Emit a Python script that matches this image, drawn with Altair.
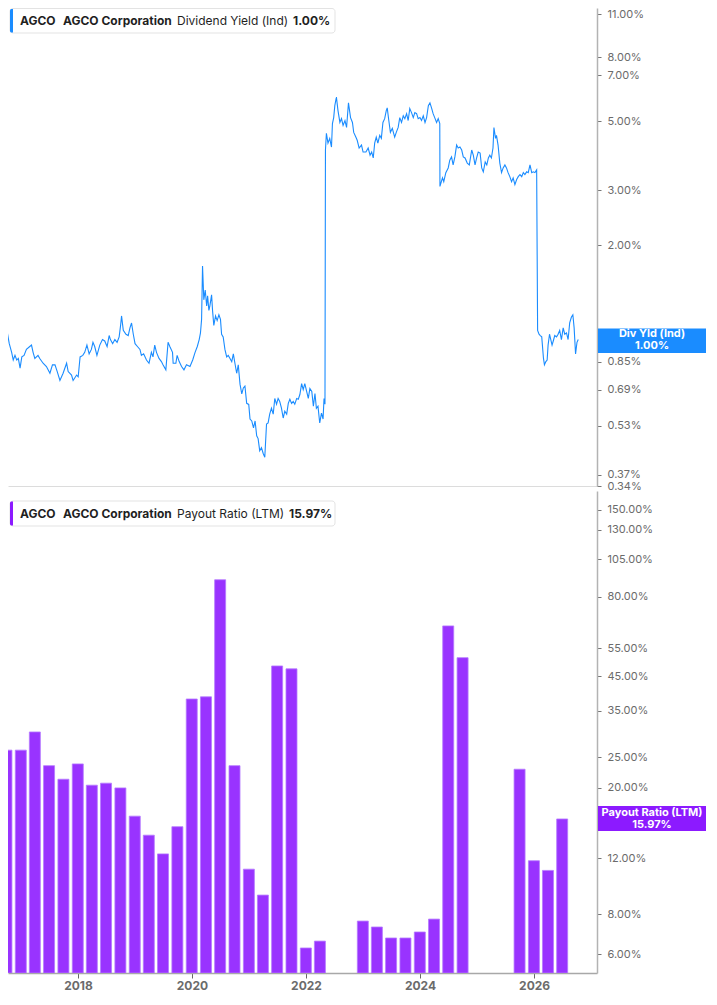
import altair as alt
import pandas as pd

# Dividend Yield (Ind), in % (thinned daily series)
yield_dates = [
    "2016-09-21", "2016-10-02", "2016-10-12", "2016-10-29", "2016-11-07", "2016-11-19", "2016-12-04", "2016-12-14",
    "2016-12-25", "2017-01-05", "2017-01-15", "2017-01-26", "2017-02-06", "2017-02-20", "2017-03-07", "2017-03-28",
    "2017-04-08", "2017-04-18", "2017-04-29", "2017-05-19", "2017-05-30", "2017-06-20", "2017-07-11", "2017-08-02",
    "2017-08-18", "2017-09-03", "2017-09-17", "2017-10-04", "2017-10-24", "2017-11-15", "2017-11-25", "2017-12-16",
    "2017-12-26", "2018-01-17", "2018-01-27", "2018-02-08", "2018-02-25", "2018-03-09", "2018-03-23", "2018-04-06",
    "2018-04-20", "2018-04-30", "2018-05-11", "2018-05-25", "2018-06-12", "2018-06-29", "2018-07-13", "2018-07-28",
    "2018-08-10", "2018-08-18", "2018-09-01", "2018-09-15", "2018-09-29", "2018-10-12", "2018-10-21", "2018-10-27",
    "2018-11-07", "2018-11-24", "2018-12-08", "2018-12-19", "2018-12-29", "2019-01-09", "2019-01-20", "2019-02-04",
    "2019-02-20", "2019-03-01", "2019-03-15", "2019-04-02", "2019-04-18", "2019-05-03", "2019-05-13", "2019-05-24",
    "2019-06-04", "2019-06-20", "2019-07-05", "2019-07-15", "2019-08-02", "2019-08-16", "2019-08-27", "2019-09-13",
    "2019-09-17", "2019-10-04", "2019-10-12", "2019-10-25", "2019-11-09", "2019-11-24", "2019-12-10", "2020-01-01",
    "2020-01-18", "2020-02-02", "2020-02-16", "2020-02-28", "2020-03-07", "2020-03-14", "2020-03-20", "2020-03-28",
    "2020-04-06", "2020-04-15", "2020-04-21", "2020-04-29", "2020-05-05", "2020-05-16", "2020-05-22", "2020-05-30",
    "2020-06-10", "2020-06-20", "2020-07-01", "2020-07-11", "2020-07-18", "2020-07-28", "2020-08-08", "2020-08-19",
    "2020-08-29", "2020-09-09", "2020-09-20", "2020-09-30", "2020-10-10", "2020-10-21", "2020-10-31", "2020-11-11",
    "2020-11-22", "2020-12-02", "2020-12-12", "2020-12-23", "2021-01-05", "2021-01-13", "2021-01-24", "2021-02-04",
    "2021-02-14", "2021-02-24", "2021-03-05", "2021-03-15", "2021-03-26", "2021-04-06", "2021-04-16", "2021-04-27",
    "2021-05-07", "2021-05-17", "2021-05-28", "2021-06-08", "2021-06-18", "2021-06-29", "2021-07-09", "2021-07-19",
    "2021-07-30", "2021-08-10", "2021-08-20", "2021-09-01", "2021-09-11", "2021-09-21", "2021-10-02", "2021-10-12",
    "2021-10-22", "2021-11-03", "2021-11-13", "2021-11-23", "2021-12-04", "2021-12-14", "2021-12-24", "2022-01-05",
    "2022-01-15", "2022-01-25", "2022-02-06", "2022-02-16", "2022-02-26", "2022-03-07", "2022-03-17", "2022-03-28",
    "2022-04-08", "2022-04-18", "2022-04-24", "2022-04-30", "2022-05-03", "2022-05-09", "2022-05-19", "2022-05-30",
    "2022-06-10", "2022-06-16", "2022-06-24", "2022-07-01", "2022-07-11", "2022-07-21", "2022-08-02", "2022-08-12",
    "2022-08-22", "2022-09-03", "2022-09-13", "2022-09-25", "2022-10-08", "2022-10-20", "2022-10-28", "2022-11-11",
    "2022-11-19", "2022-12-01", "2022-12-16", "2022-12-26", "2023-01-13", "2023-01-27", "2023-02-08", "2023-02-18",
    "2023-02-28", "2023-03-09", "2023-03-19", "2023-03-29", "2023-04-10", "2023-04-20", "2023-04-30", "2023-05-11",
    "2023-05-21", "2023-05-27", "2023-06-06", "2023-06-16", "2023-06-28", "2023-07-13", "2023-07-23", "2023-08-04",
    "2023-08-14", "2023-08-25", "2023-09-05", "2023-09-15", "2023-09-26", "2023-10-06", "2023-10-16", "2023-10-27",
    "2023-11-07", "2023-11-17", "2023-11-28", "2023-12-08", "2023-12-19", "2023-12-29", "2024-01-09", "2024-01-20",
    "2024-01-30", "2024-02-10", "2024-02-20", "2024-03-01", "2024-03-11", "2024-03-21", "2024-04-02", "2024-04-12",
    "2024-04-22", "2024-04-23", "2024-05-09", "2024-05-17", "2024-05-30", "2024-06-14", "2024-06-24", "2024-07-05",
    "2024-07-15", "2024-07-26", "2024-08-06", "2024-08-16", "2024-08-27", "2024-09-07", "2024-09-17", "2024-09-28",
    "2024-10-12", "2024-10-25", "2024-11-09", "2024-11-19", "2024-11-30", "2024-12-10", "2024-12-20", "2025-01-01",
    "2025-01-11", "2025-01-21", "2025-02-02", "2025-02-12", "2025-02-22", "2025-03-03", "2025-03-13", "2025-03-23",
    "2025-03-29", "2025-04-08", "2025-04-14", "2025-04-24", "2025-05-05", "2025-05-16", "2025-05-26", "2025-06-06",
    "2025-06-16", "2025-06-26", "2025-07-07", "2025-07-18", "2025-07-28", "2025-08-08", "2025-08-19", "2025-08-29",
    "2025-09-09", "2025-09-20", "2025-09-30", "2025-10-10", "2025-10-21", "2025-10-31", "2025-11-11", "2025-11-22",
    "2025-12-02", "2025-12-12", "2025-12-23", "2025-12-29", "2026-01-07", "2026-01-15", "2026-01-24", "2026-02-04",
    "2026-02-10", "2026-02-19", "2026-02-27", "2026-03-05", "2026-03-14", "2026-03-22", "2026-03-30", "2026-04-08",
    "2026-04-16", "2026-04-27", "2026-05-07", "2026-05-17", "2026-05-28", "2026-06-08", "2026-06-18", "2026-06-29",
    "2026-07-09", "2026-07-19", "2026-07-30", "2026-08-08", "2026-08-16", "2026-08-25", "2026-09-03", "2026-09-11",
]
yield_values = [
    1.10, 1.07, 1.00, 1.03, 1.05, 0.97, 0.91, 0.86,
    0.89, 0.86, 0.87, 0.81, 0.88, 0.89, 0.93, 0.95,
    0.96, 0.91, 0.87, 0.89, 0.87, 0.84, 0.82, 0.78,
    0.83, 0.83, 0.79, 0.74, 0.78, 0.84, 0.79, 0.77,
    0.74, 0.77, 0.76, 0.88, 0.89, 0.91, 0.96, 0.90,
    0.93, 0.98, 0.95, 0.89, 0.96, 1.00, 0.99, 0.95,
    1.03, 1.00, 0.97, 1.00, 0.98, 1.02, 1.11, 1.19,
    1.07, 1.04, 1.03, 1.09, 1.13, 1.04, 0.97, 0.95,
    0.93, 0.89, 0.90, 0.86, 0.84, 0.91, 0.88, 0.96,
    0.91, 0.87, 0.85, 0.83, 0.80, 0.98, 0.95, 0.91,
    0.84, 0.84, 0.89, 0.85, 0.82, 0.80, 0.83, 0.82,
    0.86, 0.91, 0.95, 1.00, 1.05, 1.16, 1.72, 1.34,
    1.44, 1.28, 1.38, 1.24, 1.28, 1.39, 1.24, 1.11,
    1.19, 1.15, 1.20, 1.16, 1.04, 1.02, 0.93, 0.88,
    0.89, 0.87, 0.85, 0.90, 0.84, 0.78, 0.83, 0.72,
    0.67, 0.70, 0.71, 0.625, 0.62, 0.557, 0.549, 0.522,
    0.549, 0.492, 0.482, 0.441, 0.451, 0.432, 0.420, 0.537,
    0.541, 0.577, 0.603, 0.577, 0.648, 0.621, 0.648, 0.634,
    0.603, 0.561, 0.590, 0.577, 0.625, 0.644, 0.625, 0.634,
    0.621, 0.648, 0.644, 0.667, 0.723, 0.692, 0.723, 0.682,
    0.648, 0.697, 0.682, 0.612, 0.672, 0.603, 0.612, 0.541,
    0.582, 0.557, 0.648, 0.621, 4.04, 4.57, 4.25, 4.40,
    4.13, 4.91, 5.13, 5.60, 5.97, 5.40, 4.95, 5.09,
    4.84, 5.02, 4.77, 5.72, 5.13, 4.95, 4.60, 4.44,
    4.34, 4.10, 4.19, 3.98, 3.98, 4.10, 3.89, 3.98,
    3.81, 4.25, 4.44, 4.25, 4.50, 4.40, 4.95, 5.09,
    5.40, 5.51, 5.02, 4.60, 4.74, 4.44, 4.60, 4.77,
    5.13, 4.95, 5.20, 5.09, 5.28, 5.02, 5.48, 5.32,
    5.13, 5.32, 5.28, 5.09, 5.13, 5.02, 5.20, 4.95,
    5.13, 5.60, 5.72, 5.51, 5.28, 5.13, 4.95, 5.09,
    4.91, 3.09, 3.29, 3.20, 3.42, 3.54, 3.75, 3.84,
    3.62, 3.84, 4.19, 4.10, 4.13, 4.04, 3.84, 3.81,
    3.67, 3.62, 4.04, 3.89, 3.62, 3.81, 3.98, 3.95,
    3.54, 3.44, 3.70, 3.62, 3.81, 3.89, 3.81, 4.10,
    4.77, 4.40, 4.50, 4.19, 3.67, 3.42, 3.54, 3.62,
    3.54, 3.42, 3.32, 3.20, 3.29, 3.13, 3.25, 3.32,
    3.37, 3.32, 3.42, 3.37, 3.44, 3.42, 3.62, 3.42,
    3.44, 3.42, 3.49, 1.07, 1.04, 1.03, 1.02, 0.87,
    0.83, 0.85, 0.86, 0.96, 1.04, 1.00, 0.96, 0.995,
    1.03, 1.02, 1.04, 1.07, 1.00, 1.09, 1.04, 1.05,
    1.00, 1.13, 1.18, 1.20, 1.09, 0.90, 0.98, 1.00,
]

# Payout Ratio (LTM), in %, quarter ends
payout_dates = [
    "2016-09-30", "2016-12-31", "2017-03-31", "2017-06-30", "2017-09-30", "2017-12-31",
    "2018-03-31", "2018-06-30", "2018-09-30", "2018-12-31", "2019-03-31", "2019-06-30",
    "2019-09-30", "2019-12-31", "2020-03-31", "2020-06-30", "2020-09-30", "2020-12-31",
    "2021-03-31", "2021-06-30", "2021-09-30", "2021-12-31", "2022-03-31",
    "2022-12-31", "2023-03-31", "2023-06-30", "2023-09-30", "2023-12-31", "2024-03-31",
    "2024-06-30", "2024-09-30",
    "2025-09-30", "2025-12-31", "2026-03-31", "2026-06-30",
]
payout_values = [
    26.3, 26.3, 30.0, 23.5, 21.3, 23.8,
    20.4, 20.7, 20.0, 16.3, 14.2, 12.4,
    15.1, 38.1, 38.7, 90.4, 23.5, 11.1,
    9.2, 48.4, 47.4, 6.27, 6.59,
    7.62, 7.30, 6.74, 6.74, 7.04, 7.73,
    64.7, 51.4,
    22.9, 11.8, 11.0, 15.97,
]

yield_ticks = [0.34, 0.37, 0.53, 0.69, 0.85, 1, 2, 3, 5, 7, 8, 11]
payout_ticks = [6, 8, 12, 16, 20, 25, 35, 45, 55, 80, 105, 130, 150]
year_ticks = [2018, 2020, 2022, 2024, 2026]

BLUE = "#1a8cff"
PURPLE = "#9933ff"
BADGE_PURPLE = "#8c1aff"
FONT = "Inter"
W = 589
H_TOP = 478
H_BOT = 482
YIELD_DOMAIN = [0.34, 11.5]
PAYOUT_DOMAIN = [5.23, 172]
BADGE_X0, BADGE_X1 = 590, 698

df_yield = pd.DataFrame({"date": yield_dates, "value": yield_values})
df_payout = pd.DataFrame({"date": payout_dates, "value": payout_values})
one = pd.DataFrame({"t": [""]})

x_scale = alt.Scale(
    type="utc",
    domain=[alt.DateTime(year=2016, month=11, date=11, utc=True),
            alt.DateTime(year=2027, month=1, date=7, utc=True)],
)
pct = "format(datum.value, '.2f') + '%'"


def y_axis(ticks):
    return alt.Axis(
        orient="right", values=ticks, labelExpr=pct, title=None, grid=False,
        domainColor="#b3b3b3", domainWidth=1.5, tickColor="#777", tickSize=4,
        labelColor="#6b6b6b", labelFont=FONT, labelFontSize=11, labelPadding=6,
        labelOverlap=False, labelBound=False,
    )


def txt(text, x, y, weight="normal", color="#1f1f1f", size=12, align="left", dy=0):
    return alt.Chart(pd.DataFrame({"t": [text]})).mark_text(
        align=align, baseline="middle", font=FONT, fontSize=size,
        fontWeight=weight, color=color, dy=dy,
    ).encode(x=alt.value(x), y=y, text="t:N")


def legend_box(y0, y1, accent):
    box = alt.Chart(one).mark_rect(
        fill="white", stroke="#e3e3e3", strokeWidth=1, cornerRadius=3
    ).encode(x=alt.value(2), x2=alt.value(327), y=alt.value(y0), y2=alt.value(y1))
    bar = alt.Chart(one).mark_rect(
        fill=accent, cornerRadiusTopLeft=2, cornerRadiusBottomLeft=2
    ).encode(x=alt.value(2), x2=alt.value(5), y=alt.value(y0 + 0.5), y2=alt.value(y1 - 0.5))
    return box + bar


def badge(color, lo, hi, mid, line1, line2):
    rect = alt.Chart(one).mark_rect(fill=color).encode(
        x=alt.value(BADGE_X0), x2=alt.value(BADGE_X1), y=alt.datum(hi), y2=alt.datum(lo)
    )
    cx = (BADGE_X0 + BADGE_X1) / 2
    return alt.layer(
        rect,
        txt(line1, cx, alt.datum(mid), weight="bold", color="white", size=11, align="center", dy=-6),
        txt(line2, cx, alt.datum(mid), weight="bold", color="white", size=11, align="center", dy=6),
    )


# top panel: dividend yield
line = alt.Chart(df_yield).mark_line(color=BLUE, strokeWidth=1.1, clip=True).encode(
    x=alt.X("date:T", scale=x_scale,
            axis=alt.Axis(labels=False, ticks=False, grid=False, title=None,
                          domainColor="#dcdcdc", domainWidth=1)),
    y=alt.Y("value:Q", scale=alt.Scale(type="log", domain=YIELD_DOMAIN, nice=False, zero=False),
            axis=y_axis(yield_ticks)),
)
top = alt.layer(
    line,
    legend_box(0.5, 25, BLUE),
    txt("AGCO", 12, alt.value(12.5), weight="bold"),
    txt("AGCO Corporation", 55, alt.value(12.5), weight="bold"),
    txt("Dividend Yield (Ind)", 169, alt.value(12.5)),
    txt("1.00%", 285, alt.value(12.5), weight="bold"),
    badge(BLUE, 0.905, 1.085, 1.0, "Div Yld (Ind)", "1.00%"),
).properties(width=W, height=H_TOP)

# bottom panel: payout ratio
bars = alt.Chart(df_payout).mark_bar(
    width=11, color=PURPLE, stroke="#b57aff", strokeWidth=0.8, clip=True
).encode(
    x=alt.X("date:T", scale=x_scale,
            axis=alt.Axis(values=[alt.DateTime(year=y, month=1, date=1, utc=True) for y in year_ticks],
                          format="%Y", title=None, grid=False, domainColor="#a8a8a8", domainWidth=1.5,
                          tickColor="#666", tickSize=5, labelColor="#6b6b6b", labelFont=FONT,
                          labelFontSize=12, labelFontWeight="bold", labelPadding=2)),
    y=alt.Y("value:Q", scale=alt.Scale(type="log", domain=PAYOUT_DOMAIN, nice=False, zero=False),
            axis=y_axis(payout_ticks)),
    y2=alt.datum(PAYOUT_DOMAIN[0]),
)
bottom = alt.layer(
    bars,
    legend_box(10, 35, BADGE_PURPLE),
    txt("AGCO", 12, alt.value(22.5), weight="bold"),
    txt("AGCO Corporation", 55, alt.value(22.5), weight="bold"),
    txt("Payout Ratio (LTM)", 169, alt.value(22.5)),
    txt("15.97%", 281, alt.value(22.5), weight="bold"),
    badge(BADGE_PURPLE, 14.64, 17.54, 15.97, "Payout Ratio (LTM)", "15.97%"),
).properties(width=W, height=H_BOT)

chart = alt.vconcat(top, bottom, spacing=0).properties(
    padding=0, background="white"
).configure_view(stroke=None)

chart.save("out.html", embed_options={"renderer": "svg", "actions": False})
